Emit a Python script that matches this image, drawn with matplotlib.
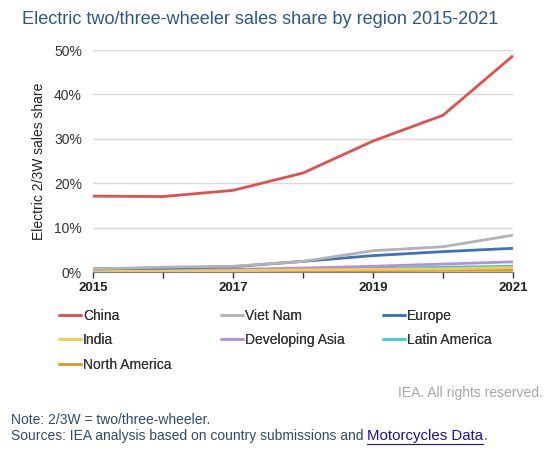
import matplotlib
matplotlib.use("Agg")
import matplotlib.pyplot as plt
from matplotlib.lines import Line2D

plt.rcParams['font.family'] = ['Liberation Sans', 'DejaVu Sans']

years = [2015, 2016, 2017, 2018, 2019, 2020, 2021]

china = [17.1, 17.0, 18.4, 22.3, 29.5, 35.3, 48.7]
viet_nam = [0.7, 1.1, 1.3, 2.4, 4.8, 5.7, 8.3]
europe = [0.7, 0.9, 1.2, 2.4, 3.7, 4.6, 5.35]
india = [0.1, 0.2, 0.3, 0.5, 0.6, 0.7, 1.0]
developing_asia = [0.4, 0.5, 0.6, 0.9, 1.3, 1.8, 2.3]
latin_america = [0.3, 0.4, 0.5, 0.6, 0.8, 1.1, 1.3]
north_america = [0.2, 0.2, 0.3, 0.3, 0.3, 0.4, 0.4]

series = [
    ("China", china, "#E0504F"),
    ("Viet Nam", viet_nam, "#B3B3B3"),
    ("Europe", europe, "#3F6FBF"),
    ("India", india, "#F7CB4D"),
    ("Developing Asia", developing_asia, "#B18FE3"),
    ("Latin America", latin_america, "#3ECDD3"),
    ("North America", north_america, "#D99A2B"),
]

fig = plt.figure(figsize=(5.59, 4.58), dpi=100)
ax = fig.add_axes([0.1664, 0.406, 0.7513, 0.4848])

lines = {}
for name, vals, col in reversed(series):
    ln, = ax.plot(years, vals, color=col, lw=2, label=name, clip_on=False,
                  solid_capstyle='butt')
    lines[name] = ln

ax.set_xlim(2015, 2021)
ax.set_ylim(0, 50)
ax.set_yticks(range(0, 51, 10))
ax.set_yticklabels([f"{v}%" for v in range(0, 51, 10)])
ax.set_xticks(years)
ax.set_xticklabels([str(y) if y % 2 == 1 else "" for y in years])
ax.grid(axis='y', color='#D9D9D9', lw=1)
ax.set_axisbelow(True)
for s in ['top', 'right', 'left']:
    ax.spines[s].set_visible(False)
ax.spines['bottom'].set_color('#808080')
ax.tick_params(axis='y', length=0, pad=8, labelsize=10, labelcolor='#333333')
ax.tick_params(axis='x', length=4, width=1, color='#333333', pad=3,
               labelsize=9.5, labelcolor='#222222')
for lbl in ax.get_xticklabels():
    lbl.set_fontweight('bold')

ax.set_ylabel("Electric 2/3W sales share", fontsize=10, color='#222222', labelpad=6)

fig.text(22 / 559, 1 - 20 / 458, "Electric two/three-wheeler sales share by region 2015-2021",
         fontsize=13.1, color='#2B5886', va='center', ha='left')

# legend: three columns placed separately
columns = [["China", "India", "North America"],
           ["Viet Nam", "Developing Asia"],
           ["Europe", "Latin America"]]
col_x = [58, 220, 382]
for names, x in zip(columns, col_x):
    leg = fig.legend([lines[n] for n in names], names, loc='upper left',
                     bbox_to_anchor=(x / 559, 1 - 309 / 458), frameon=False,
                     fontsize=10, handlelength=1.75, handletextpad=0.05,
                     labelspacing=0.74, borderpad=0, borderaxespad=0,
                     labelcolor='#333333')
    for h in leg.legend_handles:
        h.set_linewidth(1.8)
    fig.add_artist(leg)

fig.text(543 / 559, 1 - 393 / 458, "IEA. All rights reserved.", fontsize=10,
         color='#A6A6A6', ha='right', va='center')
fig.text(11 / 559, 1 - 420 / 458, "Note: 2/3W = two/three-wheeler.", fontsize=10,
         color='#2F4A6E', ha='left', va='center')
src = fig.text(11 / 559, 1 - 436 / 458, "Sources: IEA analysis based on country submissions and ",
               fontsize=10, color='#2F4A6E', ha='left', va='center')
fig.canvas.draw()
bb = src.get_window_extent()
link = fig.text(bb.x1 / fig.bbox.width, 1 - 436 / 458, "Motorcycles Data", fontsize=10.8,
                color='#1A0DAB', ha='left', va='center')
fig.canvas.draw()
lb = link.get_window_extent()
fig.add_artist(Line2D([lb.x0 / fig.bbox.width, lb.x1 / fig.bbox.width],
                      [(lb.y0 - 1) / fig.bbox.height] * 2, color='#1A0DAB', lw=0.8))
fig.text(lb.x1 / fig.bbox.width, 1 - 436 / 458, ".", fontsize=10,
         color='#2F4A6E', ha='left', va='center')

fig.savefig("out.png", dpi=100)
